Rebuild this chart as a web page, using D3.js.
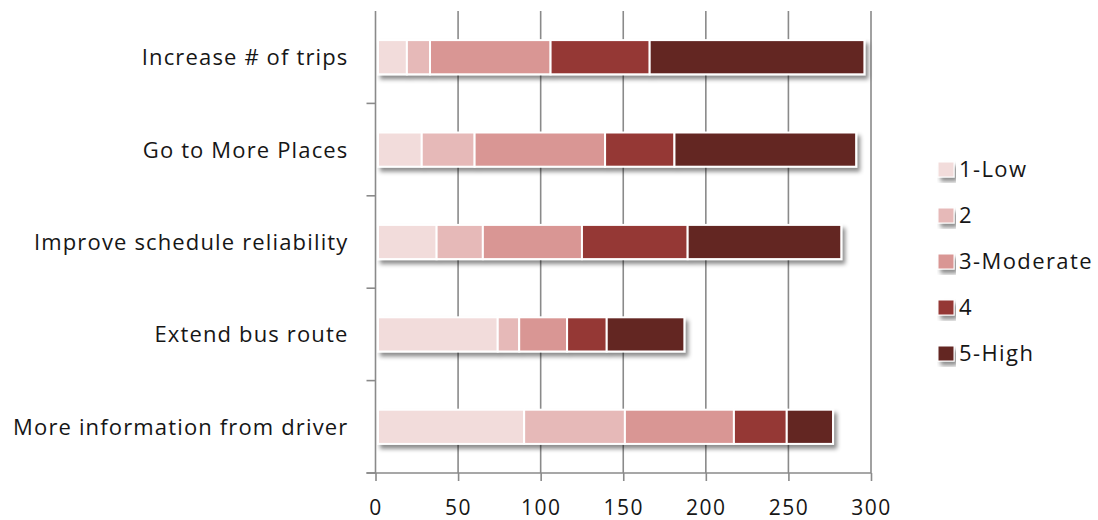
<!DOCTYPE html>
<html>
<head>
<meta charset="utf-8">
<script src="https://d3js.org/d3.v7.min.js"></script>
<style>
  * { margin: 0; padding: 0; }
  body { background: #fff; }
  svg text { font-family: "Open Sans", sans-serif; fill: #161616; }
</style>
</head>
<body>
<div id="chart"></div>
<script>
// categories, top to bottom
const categories = [
  "Increase # of trips",
  "Go to More Places",
  "Improve schedule reliability",
  "Extend bus route",
  "More information from driver"
];
const levels = ["1-Low", "2", "3-Moderate", "4", "5-High"];
const colors = ["#f2dcdb", "#e6b9b8", "#d99694", "#953735", "#632523"];

// one array per level, same order as categories
const low      = [19, 28, 37, 74, 90];
const two      = [14, 32, 28, 13, 61];
const moderate = [73, 79, 60, 29, 66];
const four     = [60, 42, 64, 24, 32];
const high     = [130, 110, 93, 47, 28];

const xTicks = [0, 50, 100, 150, 200, 250, 300];

const width = 1098, height = 520;
const plotLeft = 375.5, plotRight = 871, plotTop = 11, plotBottom = 473;

const rows = categories.map((c, i) => ({
  name: c,
  "1-Low": low[i], "2": two[i], "3-Moderate": moderate[i], "4": four[i], "5-High": high[i]
}));
const series = d3.stack().keys(levels)(rows);

const x = d3.scaleLinear().domain([0, 300]).range([plotLeft, plotRight]);
const y = d3.scaleBand().domain(categories).range([plotTop, plotBottom]);
const color = d3.scaleOrdinal().domain(levels).range(colors);
const barH = y.bandwidth() * 0.37;

const svg = d3.select("#chart").append("svg")
  .attr("width", width)
  .attr("height", height);

const defs = svg.append("defs");
const shadow = defs.append("filter").attr("id", "shadow")
  .attr("x", "-5%").attr("y", "-20%").attr("width", "115%").attr("height", "160%");
shadow.append("feDropShadow")
  .attr("dx", 3).attr("dy", 4).attr("stdDeviation", 2.2)
  .attr("flood-color", "#000").attr("flood-opacity", 0.45);

// vertical gridlines
svg.append("g")
  .selectAll("line")
  .data(xTicks.slice(1))
  .join("line")
  .attr("x1", d => x(d)).attr("x2", d => x(d))
  .attr("y1", plotTop).attr("y2", plotBottom)
  .attr("stroke", "#8a8a8a").attr("stroke-width", 1.6);

// bottom axis
const xAxis = svg.append("g")
  .attr("transform", `translate(0,${plotBottom})`)
  .call(d3.axisBottom(x).tickValues(xTicks).tickSize(8).tickPadding(19));
xAxis.select(".domain").remove();
xAxis.selectAll(".tick line").attr("stroke", "#8a8a8a").attr("stroke-width", 1.6);
xAxis.selectAll("text")
  .style("font-size", "21px")
  .style("letter-spacing", "1.5px")
  .attr("fill", "#161616");
xAxis.append("line")
  .attr("x1", plotLeft - 9).attr("x2", plotRight)
  .attr("stroke", "#8a8a8a").attr("stroke-width", 1.6);

// left axis
const yAxis = svg.append("g").attr("transform", `translate(${plotLeft},0)`);
yAxis.append("line")
  .attr("y1", plotTop).attr("y2", plotBottom)
  .attr("stroke", "#8a8a8a").attr("stroke-width", 1.6);
yAxis.selectAll(".sep")
  .data(categories)
  .join("line")
  .attr("class", "sep")
  .attr("x1", -9).attr("x2", 0)
  .attr("y1", d => y(d) + y.bandwidth()).attr("y2", d => y(d) + y.bandwidth())
  .attr("stroke", "#8a8a8a").attr("stroke-width", 1.6);
yAxis.selectAll("text")
  .data(categories)
  .join("text")
  .attr("x", -27)
  .attr("y", d => y(d) + y.bandwidth() / 2)
  .attr("dy", "0.36em")
  .attr("text-anchor", "end")
  .style("font-size", "22px")
  .style("letter-spacing", "1.15px")
  .text(d => d);

// bars (first segment kept clear of the axis line)
const x0 = d => Math.max(x(d[0]), x(0) + 2.5);
const bars = svg.append("g").attr("filter", "url(#shadow)");
bars.selectAll("g")
  .data(series)
  .join("g")
  .attr("fill", d => color(d.key))
  .selectAll("rect")
  .data(d => d)
  .join("rect")
  .attr("x", d => x0(d))
  .attr("y", d => y(d.data.name) + (y.bandwidth() - barH) / 2)
  .attr("width", d => x(d[1]) - x0(d))
  .attr("height", barH)
  .attr("stroke", "#fff")
  .attr("stroke-width", 2);

// legend
const legend = svg.append("g").attr("transform", "translate(938,169)");
const item = legend.selectAll("g")
  .data(levels)
  .join("g")
  .attr("transform", (d, i) => `translate(0,${i * 46})`);
item.append("rect")
  .attr("x", 0).attr("y", -7)
  .attr("width", 16).attr("height", 15)
  .attr("fill", d => color(d))
  .attr("stroke", "#fff").attr("stroke-width", 1)
  .attr("filter", "url(#shadow)");
item.append("text")
  .attr("x", 21)
  .attr("dy", "0.36em")
  .style("font-size", "22px")
  .style("letter-spacing", "1.4px")
  .text(d => d);
</script>
</body>
</html>
